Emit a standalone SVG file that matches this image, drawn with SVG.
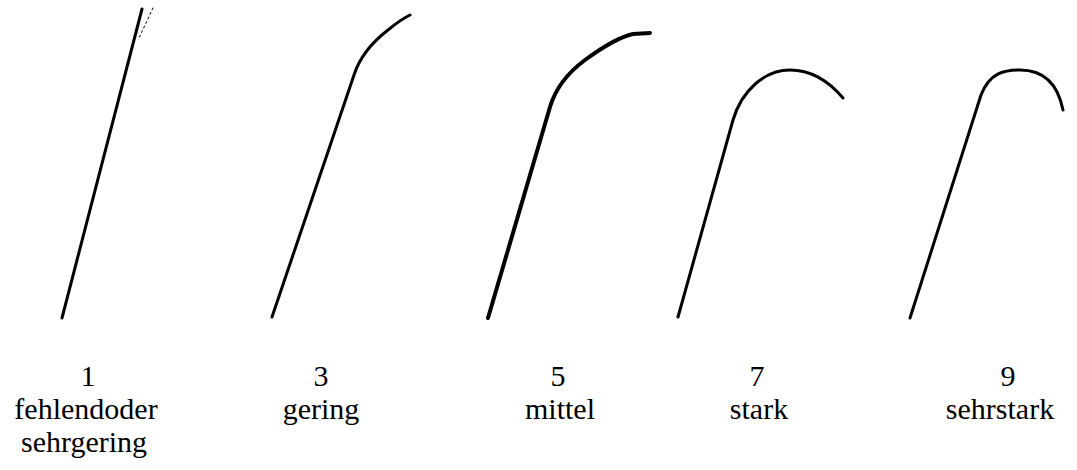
<svg xmlns="http://www.w3.org/2000/svg" width="1077" height="470" viewBox="0 0 1077 470">
<style>
.s{fill:none;stroke:#000;stroke-linecap:round;stroke-linejoin:round}
text{font-family:'Liberation Serif','Times New Roman','DejaVu Serif',serif;font-size:30px;fill:#000;text-anchor:middle}
</style>
<rect width="1077" height="470" fill="#fff"/>
<g id="stem1">
<path class="s" stroke-width="3" d="M62,318 L142,9"/>
<path class="s" stroke-width="1" stroke-dasharray="2,3" d="M153,8 L139,38"/>
<text x="88" y="386">1</text>
<text x="86" y="419">fehlendoder</text>
<text x="84" y="452">sehrgering</text>
</g>
<g id="stem3">
<path class="s" stroke-width="3" d="M272,317 L354,75 Q362,50 388,30 Q400,20 410,15"/>
<text x="321" y="386">3</text>
<text x="321" y="419">gering</text>
</g>
<g id="stem5">
<path class="s" stroke-width="4" d="M488,318 L550,107 Q558,80 585,60 Q615,38 633,34 L650,33"/>
<text x="558" y="386">5</text>
<text x="560" y="419">mittel</text>
</g>
<g id="stem7">
<path class="s" stroke-width="3" d="M678,317 L733,120 C742,90 765,70 790,70 C815,70 832,85 843,98"/>
<text x="757" y="386">7</text>
<text x="759" y="419">stark</text>
</g>
<g id="stem9">
<path class="s" stroke-width="3" d="M910,318 L981,95 C990,72 1005,70 1020,70 C1045,70 1058,85 1063,110"/>
<text x="1008" y="386">9</text>
<text x="1000" y="419">sehrstark</text>
</g>
</svg>
